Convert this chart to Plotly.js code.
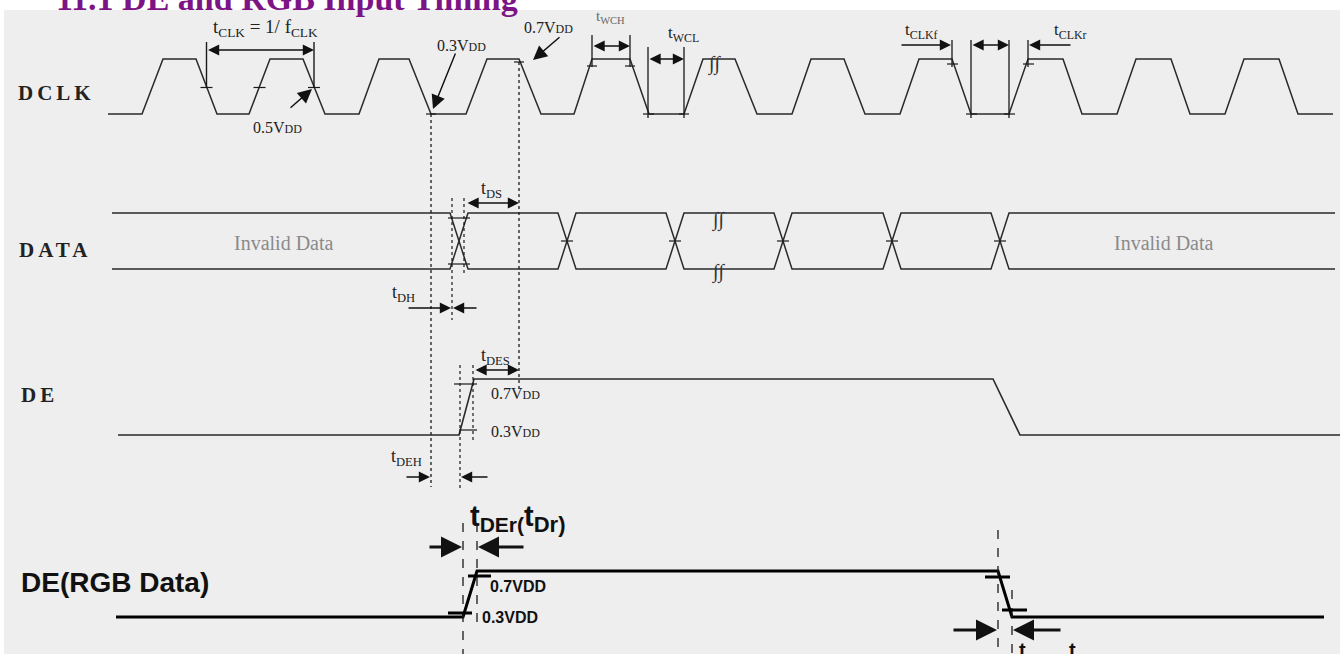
<!DOCTYPE html>
<html><head><meta charset="utf-8">
<script src="https://cdn.plot.ly/plotly-3.0.1.min.js"></script>
<style>body{margin:0;background:#fff}#chart{width:1344px;height:654px}</style>
</head><body><div id="chart"></div>
<script>
// ---- data (time positions of edges) ----
const TITLE = "11.1 DE and RGB Input Timing";
const clkRiseStart = [142, 249, 359, 466, 574, 684, 792, 900, 1009, 1117, 1225];
const clkRiseEnd   = [163, 270, 379, 487, 592, 703, 811, 919, 1028, 1136, 1244];
const clkFallStart = [196, 303, 409, 519, 630, 735, 844, 952, 1063, 1171, 1279];
const clkFallEnd   = [217, 325, 431, 541, 649, 757, 865, 971, 1082, 1190, 1298];
const clkSpan = [108, 1333];
const clkLevels = [114, 59];          // low, high

const dataCross = [459, 567, 675, 783, 892, 1000];
const dataHalf = 9;
const dataSpan = [112, 1335];
const dataRails = [213, 269];

const deSpan = [118, 1340];
const deRise = [459, 474];
const deFall = [993, 1020];
const deLevels = [435, 379];

const rgbSpan = [116, 1324];
const rgbRise = [463, 477];
const rgbFall = [998, 1012];
const rgbLevels = [617, 571];

const signalNames = ["DCLK", "DATA", "DE", "DE(RGB Data)"];

// ---- build waveforms ----
const SERIF = "Liberation Serif, Times New Roman, serif";
const SANS = "Liberation Sans, Arial, sans-serif";
const INK = "#2a2a2a";

function trace(x, y, color, width) {
  return {type: "scatter", mode: "lines", x: x, y: y, line: {color: color, width: width},
          hoverinfo: "skip", showlegend: false};
}

const cx = [clkSpan[0]], cy = [clkLevels[0]];
for (let i = 0; i < clkRiseStart.length; i++) {
  cx.push(clkRiseStart[i], clkRiseEnd[i], clkFallStart[i], clkFallEnd[i]);
  cy.push(clkLevels[0], clkLevels[1], clkLevels[1], clkLevels[0]);
}
cx.push(clkSpan[1]); cy.push(clkLevels[0]);

// two rails of the data eye
const ax = [dataSpan[0]], ay = [dataRails[0]], bx = [dataSpan[0]], by = [dataRails[1]];
let aTop = true;
for (const c of dataCross) {
  const ya = aTop ? dataRails[0] : dataRails[1];
  const yb = aTop ? dataRails[1] : dataRails[0];
  ax.push(c - dataHalf, c + dataHalf); ay.push(ya, yb);
  bx.push(c - dataHalf, c + dataHalf); by.push(yb, ya);
  aTop = !aTop;
}
ax.push(dataSpan[1]); ay.push(ay[ay.length - 1]);
bx.push(dataSpan[1]); by.push(by[by.length - 1]);

const dex = [deSpan[0], deRise[0], deRise[1], deFall[0], deFall[1], deSpan[1]];
const dey = [deLevels[0], deLevels[0], deLevels[1], deLevels[1], deLevels[0], deLevels[0]];
const rx = [rgbSpan[0], rgbRise[0], rgbRise[1], rgbFall[0], rgbFall[1], rgbSpan[1]];
const ry = [rgbLevels[0], rgbLevels[0], rgbLevels[1], rgbLevels[1], rgbLevels[0], rgbLevels[0]];

const traces = [
  trace(cx, cy, INK, 1.5),
  trace(ax, ay, INK, 1.5),
  trace(bx, by, INK, 1.5),
  trace(dex, dey, INK, 1.6),
  trace(rx, ry, "#000", 3)
];

// ---- shapes ----
const shapes = [];
shapes.push({type: "rect", xref: "x", yref: "y", x0: 4, x1: 1340, y0: 10, y1: 654,
             fillcolor: "#eeeeee", line: {width: 0}, layer: "below"});
function vl(x, y0, y1, dash, w, col) {
  shapes.push({type: "line", xref: "x", yref: "y", x0: x, x1: x, y0: y0, y1: y1,
               line: {color: col || "#1a1a1a", width: w || 1.2, dash: dash || "solid"}});
}
function tick(x0, x1, y, w, col) {
  shapes.push({type: "line", xref: "x", yref: "y", x0: x0, x1: x1, y0: y, y1: y,
               line: {color: col || "#1a1a1a", width: w || 1.2}});
}
const mid = (a, b) => (a + b) / 2;
const clkMid = mid(clkLevels[0], clkLevels[1]) + 1;
// tCLK
const tA = mid(clkFallStart[0], clkFallEnd[0]), tB = mid(clkFallStart[1], clkFallEnd[1]);
const tR = mid(clkRiseStart[1], clkRiseEnd[1]);
vl(tA, 42, clkMid, "solid", 1.4); vl(tB, 42, clkMid, "solid", 1.4);
tick(tA - 6, tA + 6, clkMid); tick(tR - 6, tR + 6, clkMid); tick(tB - 6, tB + 6, clkMid);
// 0.3 / 0.7 markers
tick(clkFallEnd[2] - 5, clkFallEnd[2] + 5, clkLevels[0]);
tick(clkFallStart[3] - 5, clkFallStart[3] + 5, clkLevels[1] + 3);
vl(clkFallEnd[2], clkLevels[0], 487, "dot", 1.3);
vl(clkFallStart[3], clkLevels[1] + 3, 392, "dot", 1.3);
// tWCH / tWCL
vl(clkRiseEnd[4], 35, 67, "solid", 1.3); vl(clkFallStart[4], 35, 67, "solid", 1.3);
tick(clkRiseEnd[4] - 5, clkRiseEnd[4] + 5, 66); tick(clkFallStart[4] - 5, clkFallStart[4] + 5, 66);
vl(clkFallEnd[4] - 1, 47, 118, "solid", 1.3); vl(clkRiseStart[5], 47, 118, "solid", 1.3);
tick(clkFallEnd[4] - 6, clkFallEnd[4] + 5, clkLevels[0]); tick(clkRiseStart[5] - 5, clkRiseStart[5] + 5, clkLevels[0]);
// tCLKf / tCLKr
vl(clkFallStart[7], 40, 67, "solid", 1.3); vl(clkFallEnd[7], 40, 118, "solid", 1.3);
vl(clkRiseStart[8], 40, 118, "solid", 1.3); vl(clkRiseEnd[8], 40, 67, "solid", 1.3);
tick(clkFallStart[7] - 5, clkFallStart[7] + 6, 64); tick(clkFallEnd[7] - 5, clkFallEnd[7] + 6, clkLevels[0]);
tick(clkRiseStart[8] - 5, clkRiseStart[8] + 6, clkLevels[0]); tick(clkRiseEnd[8] - 5, clkRiseEnd[8] + 6, 64);
// DATA
const c0 = dataCross[0];
tick(c0 - 11, c0 + 11, dataRails[0] + 5); tick(c0 - 11, c0 + 11, dataRails[1] - 5);
vl(c0 - 7, 198, 320, "dot", 1.2); vl(c0 + 5, 198, 274, "dot", 1.2);
for (let i = 1; i < dataCross.length; i++) tick(dataCross[i] - 6, dataCross[i] + 6, mid(dataRails[0], dataRails[1]));
// DE
tick(deRise[0] - 5, deRise[1] + 3, deLevels[1] + 5); tick(deRise[0], deRise[1] + 3, deLevels[0] - 5);
vl(deRise[0] + 1, 365, 490, "dot", 1.2); vl(deRise[1] - 1, 365, 440, "dot", 1.2);
// RGB
vl(rgbRise[0], 523, 654, "dash", 1.3); vl(rgbRise[1], 523, 625, "dash", 1.3);
tick(rgbRise[0] + 5, rgbRise[1] + 14, rgbLevels[1] + 5, 3, "#000");
tick(rgbRise[0] - 15, rgbRise[0] + 9, rgbLevels[0] - 4, 3, "#000");
vl(rgbFall[0], 530, 654, "dash", 1.3); vl(rgbFall[1], 590, 654, "dash", 1.3);
tick(rgbFall[0] - 13, rgbFall[0] + 12, rgbLevels[1] + 6, 3, "#000");
tick(rgbFall[1] - 10, rgbFall[1] + 15, rgbLevels[0] - 7, 3, "#000");

// ---- annotations ----
const ann = [];
function txt(x, y, text, size, opts) {
  opts = opts || {};
  ann.push({x: x, y: y, xref: "x", yref: "y", text: text, showarrow: false,
            xanchor: opts.xa || "center", yanchor: "middle", align: opts.xa || "center",
            yshift: opts.ys || 0,
            font: {family: opts.family || SERIF, size: size, color: opts.color || "#222"}});
}
function arrow(x0, y0, x1, y1, both, w, s) {
  const a = {x: x1, y: y1, ax: x0, ay: y0, xref: "x", yref: "y", axref: "x", ayref: "y",
             text: "", showarrow: true, arrowhead: 2, arrowsize: s || 1.6, arrowwidth: w || 1.4,
             arrowcolor: "#111", standoff: 0, startstandoff: 0};
  if (both) { a.arrowside = "end+start"; a.startarrowhead = 2; a.startarrowsize = s || 1.6; }
  ann.push(a);
}
const vdd = (v, s) => v + "V<span style='font-size:" + s + "px'>DD</span>";

txt(54, 0.5, "<b>" + TITLE + "</b>", 34, {xa: "left", color: "#7d1485", ys: 2});
txt(16, 93, "<b>" + signalNames[0] + "</b>", 21, {xa: "left"});
txt(17, 250, "<b>" + signalNames[1] + "</b>", 21, {xa: "left"});
txt(19, 395, "<b>" + signalNames[2] + "</b>", 21, {xa: "left"});
txt(19, 582, "<b>" + signalNames[3] + "</b>", 28, {xa: "left", family: SANS, color: "#111"});

txt(265, 28, "t<sub>CLK</sub> = 1/ f<sub>CLK</sub>", 19);
txt(277, 127, vdd("0.5", 12), 16);
txt(461, 45, vdd("0.3", 12), 16);
txt(548, 27, vdd("0.7", 12), 16);
txt(610, 17, "t<sub>WCH</sub>", 15, {color: "#666"});
txt(683, 34, "t<sub>WCL</sub>", 17);
txt(921, 31, "t<sub>CLKf</sub>", 17);
txt(1070, 31, "t<sub>CLKr</sub>", 17);
txt(714, 64, "<i>∫∫</i>", 20, {color: "#333"});
txt(718, 220, "<i>∫∫</i>", 20, {color: "#333"});
txt(718, 272, "<i>∫∫</i>", 20, {color: "#333"});
txt(284, 243, "Invalid Data", 20, {color: "#8a8a8a"});
txt(1164, 243, "Invalid Data", 20, {color: "#8a8a8a"});
txt(491, 189, "t<sub>DS</sub>", 18);
txt(403, 293, "t<sub>DH</sub>", 18);
txt(495, 356, "t<sub>DES</sub>", 18);
txt(489, 393, vdd("0.7", 12), 16, {xa: "left"});
txt(489, 431, vdd("0.3", 12), 16, {xa: "left"});
txt(406, 457, "t<sub>DEH</sub>", 18);
txt(468, 518, "<b>t<sub><span style='font-size:21px'>DEr(</span></sub>t<sub><span style='font-size:22px'>Dr)</span></sub></b>",
    29, {xa: "left", family: SANS, color: "#111"});
txt(488, 586, "<b>0.7VDD</b>", 16, {xa: "left", family: SANS, color: "#111"});
txt(480, 617, "<b>0.3VDD</b>", 16, {xa: "left", family: SANS, color: "#111"});
txt(1022, 650, "<b>t</b>", 20, {family: SANS, color: "#111"});
txt(1072, 650, "<b>t</b>", 20, {family: SANS, color: "#111"});

// arrows
arrow(tA, 50, tB, 50, true);
arrow(289, 109, tB - 2, 89, false, 1.4, 2);
arrow(456, 52, clkFallEnd[2] + 2, 109, false, 1.4, 2);
arrow(561, 36, clkFallStart[3] + 14, 60, false, 1.4, 2);
arrow(clkRiseEnd[4], 46, clkFallStart[4], 46, true);
arrow(clkFallEnd[4] - 1, 59, clkRiseStart[5], 59, true);
arrow(900, 45, clkFallStart[7] - 1, 45, false);
arrow(clkFallEnd[7], 45, clkRiseStart[8], 45, true);
arrow(1072, 45, clkRiseEnd[8] + 1, 45, false);
arrow(c0 + 7, 203, c0 + 60, 203, true);
arrow(407, 308, c0 - 8, 308, false);
arrow(478, 308, c0 - 6, 308, false);
arrow(deRise[1], 370, 519, 370, true);
arrow(405, 477, clkFallEnd[2] - 1, 477, false);
arrow(489, 477, deRise[0] + 2, 477, false);
arrow(428, 547, rgbRise[0] - 1, 547, false, 3, 1.4);
arrow(525, 547, rgbRise[1] + 1, 547, false, 3, 1.4);
arrow(952, 630, rgbFall[0] - 1, 630, false, 3, 1.4);
arrow(1062, 630, rgbFall[1] + 1, 630, false, 3, 1.4);

const layout = {
  width: 1344, height: 654, margin: {l: 0, r: 0, t: 0, b: 0, pad: 0},
  paper_bgcolor: "#ffffff", plot_bgcolor: "rgba(0,0,0,0)",
  xaxis: {range: [0, 1344], visible: false, fixedrange: true},
  yaxis: {range: [654, 0], visible: false, fixedrange: true},
  shapes: shapes, annotations: ann, showlegend: false, hovermode: false
};
Plotly.newPlot("chart", traces, layout, {displayModeBar: false, staticPlot: true}).then(function (gd) {
  // the scanned signal names are set with wide letter spacing
  const wide = signalNames.slice(0, 3);
  gd.querySelectorAll("text.annotation-text").forEach(function (t) {
    if (wide.indexOf(t.textContent) >= 0) t.style.letterSpacing = "4px";
  });
});
</script></body></html>
